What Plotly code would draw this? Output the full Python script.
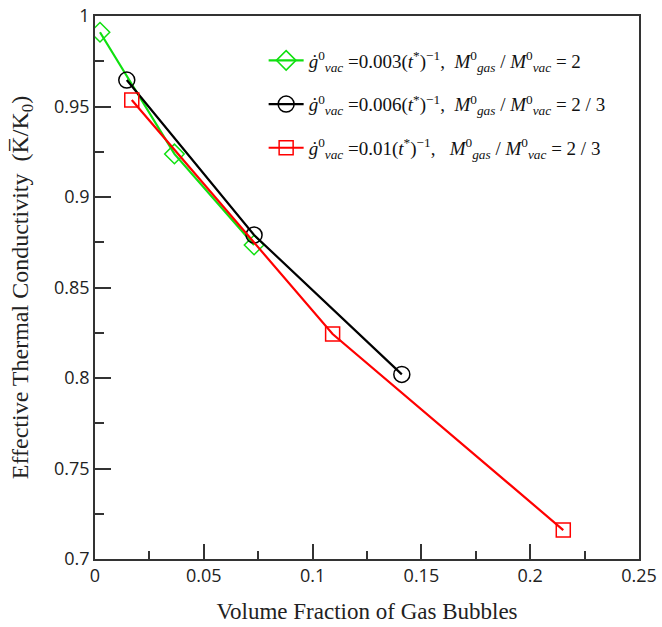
import plotly.graph_objects as go

# Data
green_x = [0.0023, 0.0365, 0.0731]
green_y = [0.991, 0.9238, 0.8735]
black_x = [0.0146, 0.0731, 0.141]
black_y = [0.9646, 0.879, 0.802]
red_x = [0.0169, 0.1092, 0.2152]
red_y = [0.9536, 0.8243, 0.716]

labels = [
    '<i>ġ</i><sup>0</sup><sub><i>vac</i></sub> =0.003(<i>t</i><sup>*</sup>)<sup>−1</sup>,  <i>M</i><sup>0</sup><sub><i>gas</i></sub> / <i>M</i><sup>0</sup><sub><i>vac</i></sub> = 2',
    '<i>ġ</i><sup>0</sup><sub><i>vac</i></sub> =0.006(<i>t</i><sup>*</sup>)<sup>−1</sup>,  <i>M</i><sup>0</sup><sub><i>gas</i></sub> / <i>M</i><sup>0</sup><sub><i>vac</i></sub> = 2 / 3',
    '<i>ġ</i><sup>0</sup><sub><i>vac</i></sub> =0.01(<i>t</i><sup>*</sup>)<sup>−1</sup>,   <i>M</i><sup>0</sup><sub><i>gas</i></sub> / <i>M</i><sup>0</sup><sub><i>vac</i></sub> = 2 / 3',
]

fig = go.Figure()
fig.add_trace(go.Scatter(
    x=green_x, y=green_y, mode="lines+markers", name=labels[0], legendgroup="g1",
    line=dict(color="#10e010", width=2.2),
    marker=dict(symbol="diamond-open", size=15, color="#10e010", line=dict(width=1.5)),
))
fig.add_trace(go.Scatter(
    x=black_x, y=black_y, mode="lines+markers", name=labels[1], legendgroup="g2",
    line=dict(color="#000000", width=2.2),
    marker=dict(symbol="circle-open", size=16, color="#000000", line=dict(width=1.5)),
))
fig.add_trace(go.Scatter(
    x=red_x, y=red_y, mode="lines+markers", name=labels[2], legendgroup="g3",
    line=dict(color="#ff0000", width=2.2),
    marker=dict(symbol="square-open", size=14, color="#ff0000", line=dict(width=1.5)),
))

axis_common = dict(
    showgrid=False, zeroline=False,
    showline=True, mirror=True, linecolor="#333333", linewidth=1.5,
    ticks="inside", tickcolor="#333333", tickwidth=1.5,
    tickfont=dict(family="Open Sans", size=18, color="#222222"),
)

fig.update_xaxes(
    **axis_common,
    range=[0, 0.25], tickvals=[0, 0.05, 0.1, 0.15, 0.2, 0.25],
    ticktext=["0", "0.05", "0.1", "0.15", "0.2", "0.25"],
    ticklen=15,
    minor=dict(ticks="inside", dtick=0.025, tick0=0, ticklen=8, tickcolor="#333333", tickwidth=1.5),
    title=dict(text="Volume Fraction of Gas Bubbles",
               font=dict(family="Liberation Serif", size=23, color="#222222"), standoff=17),
)
fig.update_yaxes(
    **axis_common,
    range=[0.7, 1.0], tickvals=[0.7, 0.75, 0.8, 0.85, 0.9, 0.95, 1.0],
    ticktext=["0.7", "0.75", "0.8", "0.85", "0.9", "0.95", "1"],
    ticklen=16,
    minor=dict(ticks="inside", dtick=0.025, tick0=0.7, ticklen=9, tickcolor="#333333", tickwidth=1.5),
    title=dict(text="\u00a0" * 5 + "Effective Thermal Conductivity  (K\u0305/K<sub>0</sub>)",
               font=dict(family="Liberation Serif", size=24, color="#222222"), standoff=19),
)

fig.update_layout(
    width=662, height=627,
    margin=dict(l=95, r=23, t=16, b=68, autoexpand=False),
    paper_bgcolor="white", plot_bgcolor="white",
    showlegend=True,
    legend=dict(
        x=0.31, y=0.953, xanchor="left", yanchor="top",
        bgcolor="rgba(0,0,0,0)", borderwidth=0,
        font=dict(family="Liberation Serif", size=19, color="#111111"),
        itemwidth=35, tracegroupgap=16,
    ),
)

fig.write_html(
    "out.html",
    config={"displayModeBar": False},
    post_script="document.body.style.margin='0px';document.body.style.overflow='hidden';",
)
